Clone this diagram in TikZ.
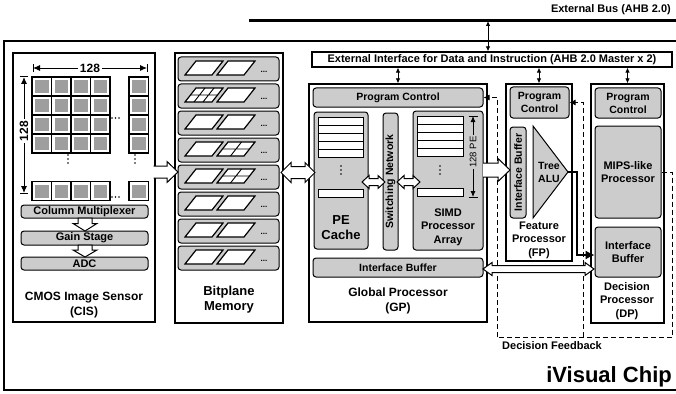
\documentclass[tikz,border=0pt]{standalone}
\usepackage{fontspec}
\setmainfont{Liberation Sans}
\usetikzlibrary{arrows.meta,fit,calc}
\definecolor{boxgray}{RGB}{204,204,204}
\definecolor{pixgray}{RGB}{158,158,158}
\begin{document}
\begin{tikzpicture}[x=1pt,y=-1pt,
  blk/.style={draw, line width=1.3pt, fill=white, inner sep=0pt},
  gbox/.style={draw, line width=1pt, fill=boxgray, rounded corners=3pt, inner sep=0pt},
  wbar/.style={draw, line width=0.9pt, fill=white},
  hol/.style={draw, line width=1pt, fill=white, line join=miter},
  fb/.style={line width=0.9pt, dash pattern=on 5pt off 3pt},
  tip/.style={-{Latex[length=6pt,width=6pt]}},
  dtip/.style={{Latex[length=5pt,width=4.5pt]}-{Latex[length=5pt,width=4.5pt]}},
  para/.style={draw, line width=1.2pt, fill=white, line join=miter},
  txt/.style={inner sep=0pt, align=center},
  fnine/.style={font=\fontsize{9.5}{11}\selectfont},
  ften/.style={font=\fontsize{10}{12}\selectfont\bfseries},
  ftenh/.style={font=\fontsize{10.5}{13}\selectfont\bfseries},
  feleven/.style={font=\fontsize{11}{13.5}\selectfont\bfseries},
  ftwelve/.style={font=\fontsize{12}{15}\selectfont\bfseries},
  fthirteen/.style={font=\fontsize{13}{15}\selectfont\bfseries},
  fbig/.style={font=\fontsize{22}{26}\selectfont\bfseries},
]
\useasboundingbox (0,0) rectangle (676,393);
\clip (0,0) rectangle (676,393);

% external bus and chip border
\node[anchor=east, txt, feleven] (buslabel) at (671,10) {External Bus (AHB 2.0)};
\coordinate (busL) at (249,21);
\coordinate (busR) at (690,21);
\draw[line width=3pt] (busL) -- (busR);
\draw[line width=2.5pt] (700,41) -- (4,41) -- (4,390) -- (700,390);
\node[anchor=east, txt, fbig] (chip) at (672,377) {iVisual Chip};

\node[blk, fit={(312,52) (672,67)}] (ext) {};
\node[txt, feleven] at (ext.center) {External Interface for Data and Instruction (AHB 2.0 Master x 2)};
\coordinate (busA) at (488,21);
\draw[dtip, line width=0.8pt] (busA) -- (busA |- ext.north);

% ---------------- CIS ----------------
\node[blk, fit={(13,53) (155,322)}] (cis) {};
\foreach \cx in {32,51.5,71,90.5,129}{
  \foreach \cy in {77,96,115,134,181.5}{
    \draw[line width=1.2pt, fill=white] (\cx,\cy) rectangle ++(19.5,19);
    \fill[pixgray] (\cx+3,\cy+3) rectangle ++(13.5,13);
  }
}
\foreach \dx/\dy in {68/155,68/159,68/163,135/155,135/159,135/163,112/118,115.5/118,119/118,112/197,115.5/197,119/197}
  \fill (\dx,\dy) circle (0.8);
% dimension arrows
\coordinate (hdL) at (33,68);
\coordinate (hdR) at (147,68);
\draw[{Latex[length=7pt,width=6pt]}-{Latex[length=7pt,width=6pt]}, line width=0.9pt] (hdL) -- (hdR);
\draw[line width=1pt] ($(hdL)+(0,-4)$) -- ($(hdL)+(0,4)$) ($(hdR)+(0,-4)$) -- ($(hdR)+(0,4)$);
\node[fill=white, inner sep=2pt, ftwelve] (h128) at (90,68) {128};
\coordinate (vdT) at (24,77);
\coordinate (vdB) at (24,193);
\draw[{Latex[length=7pt,width=6pt]}-{Latex[length=7pt,width=6pt]}, line width=0.9pt] (vdT) -- (vdB);
\draw[line width=1pt] ($(vdT)+(-4,0)$) -- ($(vdT)+(4,0)$) ($(vdB)+(-4,0)$) -- ($(vdB)+(4,0)$);
\node[fill=white, inner sep=2pt, rotate=90, ftwelve] (v128) at (24,131) {128};

\node[gbox, fit={(21,205) (148,218)}] (colmux) {};
\node[txt, feleven] at (colmux.center) {Column Multiplexer};
\node[gbox, fit={(21,231) (148,245)}] (gain) {};
\node[txt, feleven] at (gain.center) {Gain Stage};
\node[gbox, fit={(21,257) (148,270)}] (adc) {};
\node[txt, feleven] at (adc.center) {ADC};
\draw[hol] (78,218) -- (92,218) -- (92,223.5) -- (97,223.5) -- (85,231) -- (73,223.5) -- (78,223.5) -- cycle;
\draw[hol] (78,245) -- (92,245) -- (92,250) -- (97,250) -- (85,257) -- (73,250) -- (78,250) -- cycle;
\node[txt, ftwelve] (cist) at (84,305.5) {CMOS Image Sensor\\(CIS)};

% ---------------- Bitplane memory ----------------
\node[blk, fit={(175,53) (283,323)}] (bpm) {};
\foreach \y [count=\i] in {57,84,111,138,165,192,219,246}{
  \node[gbox, fit={(178,\y) (279,\y+24)}] (bp\i) {};
  \draw[para] (185,\y+18) -- (212,\y+18) -- (223,\y+4) -- (196,\y+4) -- cycle;
  \draw[para] (217,\y+18) -- (244,\y+18) -- (255,\y+4) -- (228,\y+4) -- cycle;
  \node[font=\fontsize{8}{9}\selectfont\bfseries, inner sep=0pt] at (264,\y+15) {...};
}
% grids
\draw[line width=0.9pt] (194,102) -- (205,88) (203,102) -- (214,88) (190.5,95) -- (217.5,95);
\foreach \y in {138,165}{
  \draw[line width=0.9pt] (230.5,\y+18) -- (241.5,\y+4) (222.5,\y+11) -- (249.5,\y+11);
}
\node[txt, fthirteen] (bpt) at (229,300) {Bitplane\\Memory};

% CIS -> bitplane arrow
\filldraw[hol] (153.5,166) -- (167,166) -- (167,161.5) -- (178,172) -- (167,182.5) -- (167,178) -- (153.5,178);

% ---------------- Global processor ----------------
\node[blk, fit={(309,84) (487,322)}] (gp) {};
\node[gbox, fit={(313,88) (483,107)}] (gppc) {};
\node[txt, ftenh] at (gppc.center) {Program Control};
\node[gbox, fit={(314,112) (368,249)}] (pec) {};
\foreach \y in {117,125,133,141,149,189}
  \draw[wbar] (318,\y) rectangle (363,\y+8);
\foreach \dy in {166,170,174} \fill (341,\dy) circle (0.8);
\node[txt, fthirteen] (pect) at (341,228) {PE\\Cache};
\node[gbox, fit={(383,113) (398,250)}] (sw) {};
\node[rotate=90, txt, ftenh] at (sw.center) {Switching Network};
\node[gbox, fit={(413,111) (483,250)}] (simd) {};
\foreach \y in {116,124,132,140,148,188}
  \draw[wbar] (417,\y) rectangle (463,\y+8);
\foreach \dy in {166,170,174} \fill (440,\dy) circle (0.8);
\node[txt, feleven] (simdt) at (448,227) {SIMD\\Processor\\Array};
\coordinate (peT) at (473,116);
\coordinate (peB) at (473,197);
\draw[{Latex[length=6pt,width=5pt]}-{Latex[length=6pt,width=5pt]}, line width=0.8pt] (peT) -- (peB);
\draw[line width=0.9pt] ($(peT)+(-4.5,0)$) -- ($(peT)+(4.5,0)$) ($(peB)+(-4.5,0)$) -- ($(peB)+(4.5,0)$);
\node[rotate=90, fill=boxgray, inner sep=1.5pt, fnine] (pelab) at (473,152) {128 PE};
\node[gbox, fit={(313,258) (483,277)}] (gpib) {};
\node[txt, ftenh] at (gpib.center) {Interface Buffer};
\node[txt, ftwelve] (gpt) at (398,301) {Global Processor\\(GP)};

% small double arrows PE<->SW<->SIMD
\draw[hol] (362,182) -- (369,175.5) -- (369,178.5) -- (378,178.5) -- (378,175.5) -- (385,182) -- (378,188.5) -- (378,185.5) -- (369,185.5) -- (369,188.5) -- cycle;
\draw[hol] (397,182) -- (404,175.5) -- (404,178.5) -- (413,178.5) -- (413,175.5) -- (420,182) -- (413,188.5) -- (413,185.5) -- (404,185.5) -- (404,188.5) -- cycle;

% bitplane <-> GP
\draw[hol] (281,172.5) -- (291,162.5) -- (291,166.5) -- (305,166.5) -- (305,162.5) -- (315,172.5) -- (305,182.5) -- (305,178.5) -- (291,178.5) -- (291,182.5) -- cycle;

% ---------------- Feature processor ----------------
\node[blk, fit={(506,84) (572,261)}] (fp) {};
\node[gbox, fit={(510,87) (569,118)}] (fppc) {};
\node[txt, ftenh] at (fppc.center) {Program\\Control};
\node[gbox, fit={(510,127) (526,218)}] (fpib) {};
\node[rotate=90, txt, ftenh] at (fpib.center) {Interface Buffer};
\coordinate (aluA) at (533,126);
\coordinate (aluB) at (533,218);
\coordinate (aluT) at (568,172);
\draw[line width=1pt, fill=boxgray, line join=miter] (aluA) -- (aluT) -- (aluB) -- cycle;
\node[txt, ftenh] (alut) at (549,172) {Tree\\ALU};
\node[txt, feleven] (fpt) at (539,240) {Feature\\Processor\\(FP)};

% ---------------- Decision processor ----------------
\node[blk, fit={(591,84) (664,323)}] (dp) {};
\node[gbox, fit={(595,88) (661,118)}] (dppc) {};
\node[txt, ftenh] at (dppc.center) {Program\\Control};
\node[gbox, fit={(595,126) (661,218)}] (mips) {};
\node[txt, feleven] at (mips.center) {MIPS-like\\Processor};
\node[gbox, fit={(595,227) (661,277)}] (dpib) {};
\node[txt, feleven] at (dpib.center) {Interface\\Buffer};
\node[txt, feleven] (dpt) at (627,301) {Decision\\Processor\\(DP)};

% interface connections
\draw[dtip, line width=0.8pt] (gp.north |- ext.south) -- (gp.north);
\draw[dtip, line width=0.8pt] (fp.north |- ext.south) -- (fp.north);
\draw[dtip, line width=0.8pt] (dp.north |- ext.south) -- (dp.north);

% decision feedback
\coordinate (fbR) at (672,337);
\coordinate (fbL) at (497,337);
\coordinate (fbM) at (583,337);
\draw[fb] (mips.east) -| (fbR) -- (fbL);
\draw[fb, tip] (fbL) |- (gppc.east);
\draw[fb, tip] (fbM) |- (fppc.east);
\node[anchor=west, txt, feleven] (fbt) at (502,346) {Decision Feedback};

% ALU -> DP interface buffer
\draw[line width=1.1pt, -{Latex[length=9pt,width=9pt]}] (aluT) -- (577,172) |- (dpib.west |- 0,255);

% SIMD -> FP arrow
\filldraw[hol] (483,163) -- (498,163) -- (498,158.5) -- (510,170) -- (498,181.5) -- (498,177) -- (483,177);

% GP IB <-> DP IB
\draw[hol] (483,269) -- (492,262.5) -- (492,265.5) -- (585,265.5) -- (585,262.5) -- (594,269) -- (585,275.5) -- (585,272.5) -- (492,272.5) -- (492,275.5) -- cycle;
\end{tikzpicture}
\end{document}
